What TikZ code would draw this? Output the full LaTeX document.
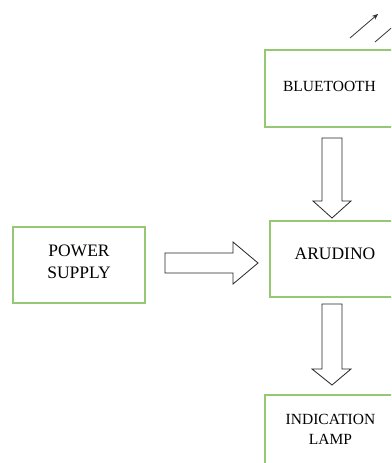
\documentclass[tikz,border=0pt]{standalone}
\usepackage{fontspec}
\setmainfont{Liberation Serif}
\usetikzlibrary{arrows.meta}
\definecolor{boxgreen}{RGB}{150,200,115}
\begin{document}
\begin{tikzpicture}[x=1pt,y=-1pt,
  box/.style={draw=boxgreen,line width=1.4pt,fill=white,align=center,inner sep=0pt},
  blockarr/.style={draw=black!85,line width=0.8pt,fill=white,line join=miter},
  antenna/.style={draw=black!80,line width=0.8pt}]
\useasboundingbox (0,0) rectangle (391,463);
\clip (0,0) rectangle (391,463);
\fill[white] (0,0) rectangle (391,463);
% boxes
\node[box,minimum width=129pt,minimum height=77pt,text depth=4pt,font=\fontsize{15.5}{18}\selectfont] (bt) at (329.5,88.5) {BLUETOOTH};
\node[box,minimum width=132pt,minimum height=76pt,text depth=6pt,font=\fontsize{17.5}{22}\selectfont] (ps) at (79,265) {POWER\\SUPPLY};
\node[box,minimum width=130pt,minimum height=76pt,text depth=10pt,font=\fontsize{17.5}{22}\selectfont] (ar) at (335,259) {ARUDINO};
\node[box,minimum width=131pt,minimum height=76pt,text depth=8pt,font=\fontsize{15.5}{20}\selectfont] (il) at (330.5,433) {INDICATION\\LAMP};
% block arrows
\draw[blockarr] (165,253) -- (233,253) -- (233,242) -- (258,263) -- (233,284) -- (233,273) -- (165,273) -- cycle;
\draw[blockarr] (322,138) -- (342,138) -- (342,201) -- (351,201) -- (332,218) -- (313,201) -- (322,201) -- cycle;
\draw[blockarr] (322,304) -- (342,304) -- (342,369) -- (351,369) -- (332,385) -- (312,369) -- (322,369) -- cycle;
% antenna
\coordinate (a1s) at (350,38);
\coordinate (a1e) at (378,14);
\coordinate (a2s) at (375,42);
\coordinate (a2e) at (403,18);
\draw[antenna,-{Stealth[length=6pt,width=5pt]}] (a1s) -- (a1e);
\draw[antenna,-{Stealth[length=6pt,width=5pt]}] (a2s) -- (a2e);
\end{tikzpicture}
\end{document}
